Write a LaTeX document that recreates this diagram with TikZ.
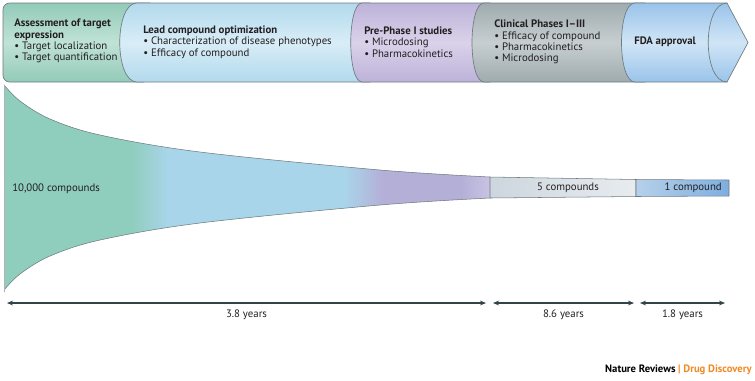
\documentclass[tikz,border=0pt]{standalone}
\usepackage{fontspec}
\setmainfont{PT Sans}
\usetikzlibrary{arrows.meta,positioning}

% 颜色
\definecolor{edgegray}{HTML}{6E7B7F}
\definecolor{txtdark}{HTML}{231F20}
\definecolor{gbar}{HTML}{93CAB8}
\definecolor{gbarl}{HTML}{C0E3D6}
\definecolor{bbar}{HTML}{B2D9EC}
\definecolor{bbarl}{HTML}{D8EDF7}
\definecolor{pbar}{HTML}{BDB2D9}
\definecolor{pbarl}{HTML}{DAD2EA}
\definecolor{cbar}{HTML}{9FABAE}
\definecolor{cbarl}{HTML}{C6CED0}
\definecolor{fbar}{HTML}{9AC3EA}
\definecolor{fbarl}{HTML}{D0E5F6}
\definecolor{fgreen}{HTML}{8FCDBC}
\definecolor{fblue}{HTML}{A9D5EA}
\definecolor{fpurple}{HTML}{B4AFD7}
\definecolor{fpurplel}{HTML}{C9C3E3}
\definecolor{cgrayl}{HTML}{CDD6DE}
\definecolor{cgrayr}{HTML}{E8ECEF}
\definecolor{fdal}{HTML}{B6D0EA}
\definecolor{fdar}{HTML}{7EAEDF}
\definecolor{arrowgray}{HTML}{34434A}
\definecolor{nrorange}{HTML}{F08A24}

\pgfdeclarehorizontalshading{funnelshade}{100bp}{color(0bp)=(fgreen); color(38bp)=(fgreen); color(42bp)=(fblue); color(60bp)=(fblue); color(64bp)=(fpurple); color(72bp)=(fpurple); color(75bp)=(fpurplel); color(100bp)=(fpurplel)}

\tikzset{
  stagebar/.style={draw=edgegray, line width=0.5pt},
  stagetext/.style={anchor=west, align=left, inner sep=0pt, text=txtdark,
    font=\fontsize{8.1}{8.5}\selectfont},
  funneltext/.style={inner sep=0pt, text=txtdark, font=\fontsize{8.1}{8.5}\selectfont},
  yearspan/.style={draw=arrowgray, line width=0.9pt,
    {Stealth[length=4.5pt,width=3.6pt]}-{Stealth[length=4.5pt,width=3.6pt]}},
  yeartext/.style={below=4.5pt, inner sep=0pt, text=txtdark,
    font=\fontsize{8.1}{8.5}\selectfont}
}

\begin{document}
\begin{tikzpicture}[x=0.75pt, y=-0.75pt, line cap=round, line join=round]
    % 画布：以像素为单位
    \useasboundingbox (0,0) rectangle (755,380);
    \def\yt{3}
    \def\yb{82}

    % 上方阶段条
    \path[stagebar, top color=gbar, bottom color=gbar, middle color=gbarl]
        [rounded corners=5] (150,\yt) -- (3,\yt) -- (3,\yb) -- (150,\yb) [sharp corners] -- cycle;
    \path[stagebar, top color=bbar, bottom color=bbar, middle color=bbarl]
        (137,\yt) .. controls (114,\yt) and (114,\yb) .. (137,\yb) -- (370,\yb) -- (370,\yt) -- cycle;
    \path[stagebar, top color=pbar, bottom color=pbar, middle color=pbarl]
        (362,\yt) .. controls (347,\yt) and (347,\yb) .. (362,\yb) -- (490,\yb) -- (490,\yt) -- cycle;
    \path[stagebar, top color=cbar, bottom color=cbar, middle color=cbarl]
        (484,\yt) .. controls (468,\yt) and (468,\yb) .. (484,\yb) -- (645,\yb) -- (645,\yt) -- cycle;
    \path[stagebar, top color=fbar, bottom color=fbar, middle color=fbarl]
        (635,\yt) .. controls (617,\yt) and (617,\yb) .. (635,\yb) -- (727,\yb) -- (748,42.5) -- (727,\yt) -- cycle;
    \draw[stagebar] (727,\yt) .. controls (702,\yt) and (702,\yb) .. (727,\yb);

    % 阶段文字
    \node[stagetext] (assess) at (14,41) {\textbf{Assessment of target}\\\textbf{expression}\\• Target localization\\• Target quantification};
    \node[stagetext] (lead) at (143,42) {\textbf{Lead compound optimization}\\• Characterization of disease phenotypes\\• Efficacy of compound};
    \node[stagetext] (prephase) at (364,42) {\textbf{Pre-Phase I studies}\\• Microdosing\\• Pharmacokinetics};
    \node[stagetext] (clinical) at (494,42) {\textbf{Clinical Phases I–III}\\• Efficacy of compound\\• Pharmacokinetics\\• Microdosing};
    \node[stagetext] (fda) at (634,42) {\textbf{FDA approval}};

    % 漏斗
    \path[shading=funnelshade, shading angle=0]
        plot[smooth, tension=0.55] coordinates {(4,85) (20,101) (50,119) (100,135) (200,152) (380,170) (490,177)}
        -- plot[smooth, tension=0.55] coordinates {(490,198) (380,205) (200,223) (100,240) (50,256) (20,274) (4,290)}
        -- cycle;
    \draw[edgegray, line width=0.4pt] plot[smooth, tension=0.55] coordinates {(4,85) (20,101) (50,119) (100,135) (200,152) (380,170) (490,177)};
    \draw[edgegray, line width=0.4pt] plot[smooth, tension=0.55] coordinates {(490,198) (380,205) (200,223) (100,240) (50,256) (20,274) (4,290)};
    \draw[gray!60, line width=0.4pt] (4,85) -- (4,292);

    % 临床段与批准段
    \path[draw=edgegray, line width=0.4pt, left color=cgrayl, right color=cgrayr]
        (490,177) -- (636,179.5) -- (636,196.5) -- (490,198) -- cycle;
    \path[draw=edgegray, line width=0.4pt, left color=fdal, right color=fdar]
        (636,179.5) -- (729,180) -- (729,196) -- (636,196.5) -- cycle;

    % 化合物数量
    \node[funneltext, anchor=west] (n10k) at (12,189) {10,000 compounds};
    \node[funneltext] (n5) at (568,188) {5 compounds};
    \node[funneltext, anchor=east] (n1) at (722,188) {1 compound};

    % 时间箭头
    \coordinate (s1) at (7,303);
    \coordinate (e1) at (486,303);
    \coordinate (s2) at (493,303);
    \coordinate (e2) at (634,303);
    \coordinate (s3) at (640,303);
    \coordinate (e3) at (725,303);
    \draw[yearspan] (s1) -- (e1) node[yeartext, midway] (y1) {3.8 years};
    \draw[yearspan] (s2) -- (e2) node[yeartext, midway] (y2) {8.6 years};
    \draw[yearspan] (s3) -- (e3) node[yeartext, midway] (y3) {1.8 years};

    % 来源
    \node[anchor=east, inner sep=0pt, font=\fontsize{8}{8}\selectfont\bfseries] (credit) at (752,370)
        {Nature Reviews \textcolor{nrorange}{| Drug Discovery}};
\end{tikzpicture}
\end{document}
